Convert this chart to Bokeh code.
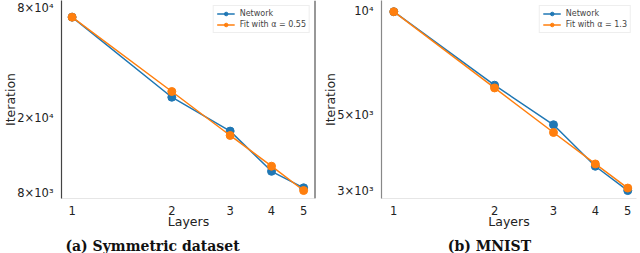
from bokeh.plotting import figure
from bokeh.layouts import row, column
from bokeh.models import FixedTicker, Range1d, Span
from bokeh.core.properties import value
from bokeh.embed import file_html
from bokeh.resources import INLINE

layers = [1, 2, 3, 4, 5]
layer_labels = ["1", "2", "3", "4", "5"]

sym_network = [70000, 26000, 17100, 10400, 8480]
sym_fit = [70000, 27900, 16200, 11080, 8200]
sym_yticks = [8000, 20000, 80000]
sym_ylabels = ["8×10³", "2×10⁴", "8×10⁴"]

mnist_network = [9930, 6085, 4675, 3546, 3015]
mnist_fit = [9930, 5975, 4440, 3600, 3066]
mnist_yticks = [3000, 5000, 10000]
mnist_ylabels = ["3×10³", "5×10³", "10⁴"]

captions = ["(a) Symmetric dataset", "(b) MNIST"]

BLUE = "#1f77b4"
ORANGE = "#ff7f0e"
FONT = "DejaVu Sans"
MAIN_H = 231
CAP_H = 22


def make_panel(width, bl, br, xr, yr, net, fit, fit_label, yticks, ylabels,
               spine_color, right_line):
    p = figure(width=width, height=MAIN_H, x_axis_type="log", y_axis_type="log",
               x_range=Range1d(*xr), y_range=Range1d(*yr),
               output_backend="svg", toolbar_location=None,
               min_border_left=bl, min_border_right=br, min_border_top=0,
               min_border_bottom=0)
    p.xgrid.visible = False
    p.ygrid.visible = False
    p.outline_line_color = None
    p.background_fill_color = "white"

    p.xaxis.ticker = FixedTicker(ticks=layers)
    p.xaxis.major_label_overrides = {k: v for k, v in zip(layers, layer_labels)}
    p.yaxis.ticker = FixedTicker(ticks=yticks)
    p.yaxis.major_label_overrides = {k: v for k, v in zip(yticks, ylabels)}
    for ax in (p.xaxis[0], p.yaxis[0]):
        ax.major_tick_line_color = None
        ax.minor_tick_line_color = None
        ax.major_label_text_font = FONT
        ax.major_label_text_font_size = "11.5px"
        ax.major_label_text_color = "#222222"
        ax.axis_label_text_font = FONT
        ax.axis_label_text_font_size = "12.5px"
        ax.axis_label_text_font_style = "normal"
        ax.axis_label_text_color = "#222222"
    p.xaxis.major_label_standoff = 1
    p.xaxis.axis_label_standoff = -4
    p.yaxis.major_label_standoff = 2
    p.yaxis.axis_label_standoff = -4
    p.xaxis.axis_label = "Layers"
    p.yaxis.axis_label = "Iteration"
    p.xaxis.axis_line_color = "#e6e6e6"
    p.yaxis.axis_line_color = spine_color
    p.yaxis.axis_line_width = 1.2

    if right_line:
        p.add_layout(Span(location=xr[1], dimension="height",
                          line_color="#333333", line_width=2))

    p.line(layers, net, color=BLUE, line_width=1.5, legend_label="Network")
    p.scatter(layers, net, marker="circle", size=8, color=BLUE, legend_label="Network")
    p.line(layers, fit, color=ORANGE, line_width=1.5, legend_label=fit_label)
    p.scatter(layers, fit, marker="circle", size=8, color=ORANGE, legend_label=fit_label)

    lg = p.legend[0]
    lg.location = "top_right"
    lg.label_text_font = FONT
    lg.label_text_font_size = "8px"
    lg.label_height = 9
    lg.glyph_height = 9
    lg.glyph_width = 18
    lg.spacing = 2
    lg.padding = 3
    lg.margin = 5
    lg.label_standoff = 5
    lg.border_line_color = "#dddddd"
    lg.background_fill_alpha = 0.9
    return p


def make_caption(width, text, cx):
    c = figure(width=width, height=CAP_H, x_range=Range1d(0, width),
               y_range=Range1d(0, CAP_H), output_backend="svg",
               toolbar_location=None, min_border=0)
    c.axis.visible = False
    c.grid.visible = False
    c.outline_line_color = None
    c.text(x=[cx], y=[8], text=[text], text_font=value("DejaVu Serif"),
           text_font_style="bold", text_font_size="14px", text_align="center",
           text_baseline="middle", text_color="#111111")
    return c


p1 = make_panel(320, 50, 5, (0.929, 5.43), (7430, 86000), sym_network, sym_fit,
                "Fit with α = 0.55", sym_yticks, sym_ylabels, "#444444", True)
p2 = make_panel(320, 52, 4, (0.919, 5.31), (2860, 10700), mnist_network, mnist_fit,
                "Fit with α = 1.3", mnist_yticks, mnist_ylabels, "#888888", False)
c1 = make_caption(320, captions[0], 152)
c2 = make_caption(320, captions[1], 169)

layout = column(row(p1, p2, spacing=0), row(c1, c2, spacing=0), spacing=0)
open("out.html", "w").write(file_html(layout, INLINE))
